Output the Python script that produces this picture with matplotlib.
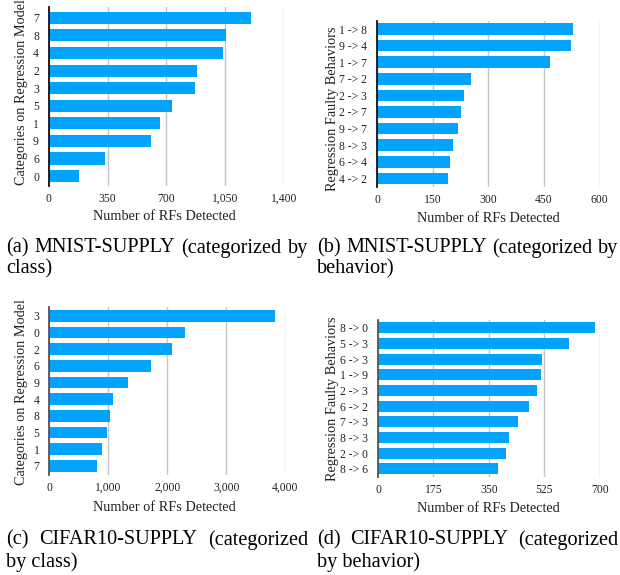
import numpy as np
import matplotlib
matplotlib.use("Agg")
import matplotlib.pyplot as plt
from matplotlib.ticker import FuncFormatter

plt.rcParams["font.family"] = ["Liberation Serif", "DejaVu Serif"]

# RFs detected per class / per faulty behavior (sorted, largest first)
mnist_classes = ["7", "8", "4", "2", "3", "5", "1", "9", "6", "0"]
mnist_class_rfs = [1202, 1053, 1037, 884, 870, 732, 662, 607, 335, 182]

mnist_behaviors = ["1 -> 8", "9 -> 4", "1 -> 7", "7 -> 2", "2 -> 3",
                   "2 -> 7", "9 -> 7", "8 -> 3", "6 -> 4", "4 -> 2"]
mnist_behavior_rfs = [529, 522, 465, 253, 234, 226, 217, 205, 196, 192]

cifar_classes = ["3", "0", "2", "6", "9", "4", "8", "5", "1", "7"]
cifar_class_rfs = [3825, 2297, 2076, 1726, 1341, 1086, 1024, 973, 894, 809]

cifar_behaviors = ["8 -> 0", "5 -> 3", "6 -> 3", "1 -> 9", "2 -> 3",
                   "6 -> 2", "7 -> 3", "8 -> 3", "2 -> 0", "8 -> 6"]
cifar_behavior_rfs = [685, 602, 519, 514, 503, 477, 442, 414, 403, 378]

mnist_class_ticks = [0, 350, 700, 1050, 1400]
mnist_behavior_ticks = [0, 150, 300, 450, 600]
cifar_class_ticks = [0, 1000, 2000, 3000, 4000]
cifar_behavior_ticks = [0, 175, 350, 525, 700]

BAR_COLOR = "#02A3FE"
W, H = 620, 575

fig = plt.figure(figsize=(W / 100, H / 100), dpi=100)


def add_panel(px_left, px_right, px_top, px_bottom):
    """Axes placed by pixel edges (origin top-left)."""
    return fig.add_axes([px_left / W, 1 - px_bottom / H,
                         (px_right - px_left) / W, (px_bottom - px_top) / H])


def draw_bars(ax, labels, values, ticks, ylabel, ylabel_xy, ylim, spine_color):
    y = np.arange(len(labels))
    ax.barh(y, values, height=0.69, color=BAR_COLOR, zorder=3)
    ax.set_yticks(y)
    ax.set_yticklabels(labels)
    ax.set_ylim(*ylim)
    ax.set_xlim(ticks[0], ticks[-1])
    ax.set_xticks(ticks)
    ax.xaxis.set_major_formatter(FuncFormatter(lambda v, _: f"{v:,.0f}"))
    ax.grid(axis="x", color="#c4c4c4", linewidth=1.0, zorder=0)
    ax.set_axisbelow(True)
    for side in ["top", "right", "bottom"]:
        ax.spines[side].set_visible(False)
    ax.spines["left"].set_color(spine_color)
    ax.spines["left"].set_linewidth(1.3)
    ax.spines["left"].set_zorder(4)
    ax.tick_params(length=0, labelsize=8.4, colors="#222222")
    ax.tick_params(axis="x", pad=5)
    ax.tick_params(axis="y", pad=7)
    ax.set_xlabel("Number of RFs Detected", fontsize=10.3, color="#222222")
    ax.xaxis.label.set_va("center")
    ax.set_ylabel(ylabel, fontsize=10.3, color="#222222")
    ax.yaxis.label.set_va("center")
    ax.yaxis.set_label_coords(*ylabel_xy)


def justified_line(words, x0, x1, y, size=14.6):
    """Spread words so the line runs from x0 to x1 (pixel coords)."""
    renderer = fig.canvas.get_renderer()
    texts = [fig.text(0, 1 - y / H, w, fontsize=size, va="center", ha="left",
                      color="black") for w in words]
    widths = [t.get_window_extent(renderer).width for t in texts]
    gap = (x1 - x0 - sum(widths)) / max(len(words) - 1, 1)
    x = x0
    for t, w in zip(texts, widths):
        t.set_x(x / W)
        x += w + gap


def plain_line(text, x0, y, size=14.6):
    fig.text(x0 / W, 1 - y / H, text, fontsize=size, va="center", ha="left",
             color="black")


ax_a = add_panel(48.7, 284, 7.3, 185.7)
draw_bars(ax_a, mnist_classes, mnist_class_rfs, mnist_class_ticks,
          "Categories on Regression Model", (-0.115, 0.525), (9.55, -0.6), "#111111")
ax_a.xaxis.set_label_coords(0.49, -0.175)

ax_b = add_panel(377, 599.7, 20.7, 186.7)
draw_bars(ax_b, mnist_behaviors, mnist_behavior_rfs, mnist_behavior_ticks,
          "Regression Faulty Behaviors", (-0.2, 0.468), (9.5, -0.5), "#111111")
ax_b.xaxis.set_label_coords(0.5, -0.19)

ax_c = add_panel(49.3, 285, 306.7, 475)
draw_bars(ax_c, cifar_classes, cifar_class_rfs, cifar_class_ticks,
          "Categories on Regression Model", (-0.117, 0.493), (9.55, -0.55), "#555555")
ax_c.xaxis.set_label_coords(0.49, -0.196)

ax_d = add_panel(378, 599.7, 320, 476.7)
draw_bars(ax_d, cifar_behaviors, cifar_behavior_rfs, cifar_behavior_ticks,
          "Regression Faulty Behaviors", (-0.205, 0.496), (9.5, -0.5), "#555555")
ax_d.xaxis.set_label_coords(0.5, -0.2)

# Sub-figure captions
justified_line(["(a)", "MNIST-SUPPLY", "(categorized", "by"], 6, 308, 248)
plain_line("class)", 6, 269)
justified_line(["(b)", "MNIST-SUPPLY", "(categorized", "by"], 317, 618, 248)
plain_line("behavior)", 317, 269)
justified_line(["(c)", "CIFAR10-SUPPLY", "(categorized"], 6, 308, 540)
plain_line("by class)", 6, 562)
justified_line(["(d)", "CIFAR10-SUPPLY", "(categorized"], 317, 618, 540)
plain_line("by behavior)", 317, 562)

fig.savefig("out.png", dpi=100)
